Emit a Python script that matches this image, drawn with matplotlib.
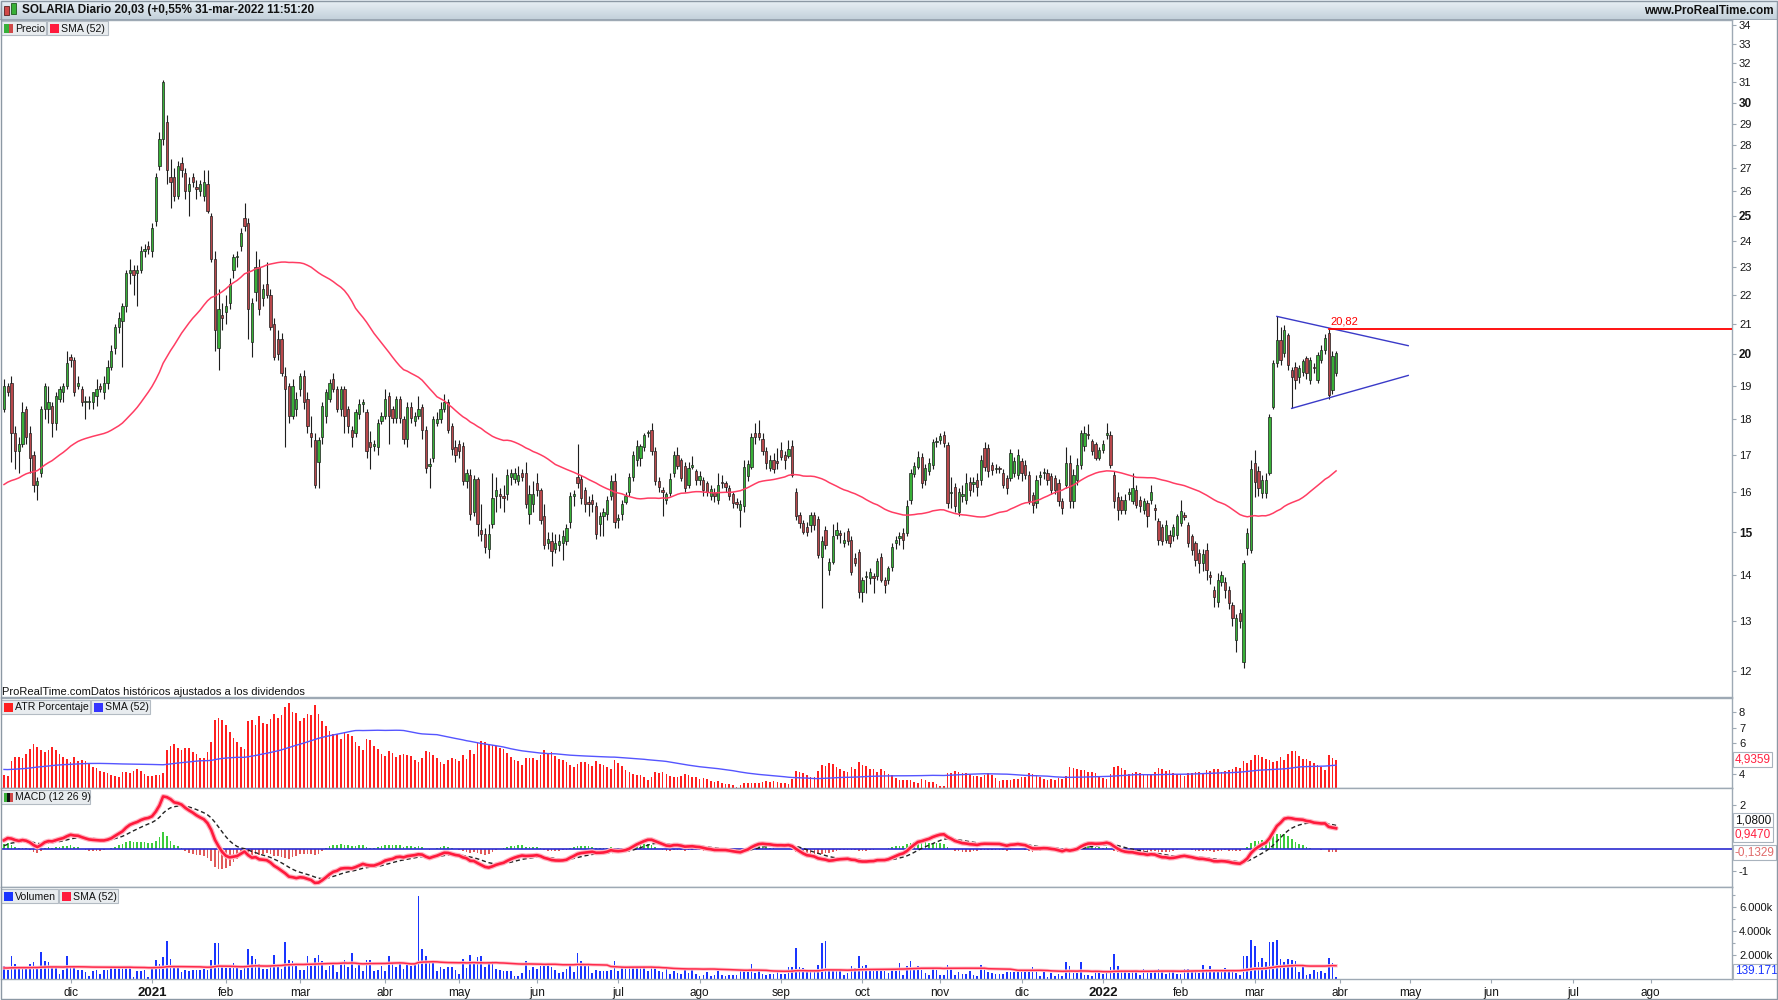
import numpy as np
import pandas as pd
import matplotlib
matplotlib.use("Agg")
import matplotlib.pyplot as plt
from matplotlib.patches import Rectangle
from matplotlib.ticker import FixedLocator, NullLocator, NullFormatter
from matplotlib.transforms import blended_transform_factory
from matplotlib.colors import LinearSegmentedColormap

plt.rcParams['font.family'] = ['Liberation Sans', 'DejaVu Sans']

# daily candles, 5-nov-2020 .. 31-mar-2022
open_px = [
    18.3, 19.0, 19.1, 17.6, 17.1, 17.3, 18.3, 17.6, 17.0, 16.2,
    16.5, 18.3, 18.3, 18.4, 17.9, 18.6, 18.8, 19.0, 19.9, 19.8,
    19.0, 18.9, 18.5, 18.5, 18.5, 18.7, 19.0, 18.8, 19.1, 19.6,
    20.2, 20.9, 21.1, 21.6, 22.8, 22.9, 22.8, 22.9, 23.6, 23.8,
    23.6, 24.8, 27.1, 28.3, 29.1, 26.6, 26.6, 25.8, 27.2, 26.8,
    26.0, 26.6, 26.2, 26.0, 25.8, 26.3, 25.0, 23.3, 20.2, 21.3,
    21.4, 21.7, 22.9, 23.4, 23.8, 24.9, 24.7, 20.4, 22.1, 23.0,
    21.9, 22.4, 22.0, 21.0, 20.5, 20.5, 19.3, 19.0, 18.1, 18.3,
    18.9, 19.3, 18.6, 17.6, 17.4, 16.8, 17.5, 18.1, 18.6, 19.2,
    18.9, 18.3, 18.9, 18.3,
    17.7, 17.6, 18.15, 18.45, 18.2, 17.35,
    17.25, 17.2, 17.95, 18.1, 18.7, 18.3, 18.05, 18.6, 18.0, 17.45,
    18.35, 17.95, 18.1, 18.35, 17.7, 16.7, 16.9, 17.9, 18.0, 18.3,
    18.5, 17.8, 17.2, 17.3, 17.25, 16.3, 16.45, 15.5, 16.35, 15.05,
    14.95, 14.6, 15.2, 15.9, 15.95, 15.9, 15.95, 16.4, 16.35, 16.3,
    16.5, 16.5, 15.45, 15.7, 16.25, 16.05, 15.4, 14.75, 14.8, 14.6,
    14.7, 14.75, 14.8, 15.25, 15.9, 16.4, 16.35, 16.05, 15.75, 15.8,
    15.65, 15.2, 15.4, 15.45, 15.9, 16.3, 15.3, 15.45, 15.75, 16.0,
    16.4, 16.85, 16.9, 17.2, 17.6, 17.7, 17.1, 16.3, 16.05, 15.8,
    15.98, 16.5, 17.0,
    16.86, 16.7, 16.2, 16.68, 16.55, 16.33, 16.33,
    16.24, 15.9, 15.98, 15.8, 16.26, 16.24, 16.1, 15.95, 15.75, 15.55,
    15.64, 16.42, 16.68, 17.6, 17.6, 17.45, 17.1, 16.64, 16.86, 16.8,
    17.13, 17.0, 16.97, 17.23, 16.0, 15.43, 15.22, 15.12, 15.18, 15.43,
    15.32, 14.42, 15.06, 14.12, 14.3, 14.94, 14.96, 14.74, 15.04, 14.82,
    14.38, 14.54, 13.63, 13.95, 13.93, 13.97, 13.97, 14.42, 13.89, 13.88,
    14.19, 14.74, 14.87, 14.98, 14.98, 15.8, 16.48, 16.68, 16.95, 16.33,
    16.55, 16.73, 17.35, 17.41, 17.55, 17.27, 15.98, 16.15, 15.5, 15.9,
    15.8, 16.28, 16.22, 16.33, 16.33, 17.18, 17.18, 16.72, 16.6,
    16.62, 16.5, 16.37,
    16.37, 16.51, 16.46, 16.82, 16.73, 16.46, 15.94, 15.72, 16.4, 16.5,
    16.51, 16.42, 16.37, 16.24, 15.77, 16.2, 16.77, 15.77, 16.33, 16.73,
    17.23, 17.56, 17.38, 17.29, 16.91, 17.14, 17.56, 17.56, 16.46, 15.89,
    15.81, 15.56, 15.96, 15.77, 16.07, 15.81, 15.56, 15.72, 15.81, 15.58,
    15.27, 15.14, 14.82, 14.94, 14.9, 14.94, 15.23, 15.4, 15.19, 14.9,
    14.74, 14.5, 14.27, 14.58, 13.98, 13.67, 13.41, 13.85, 13.85, 13.67,
    13.34, 12.61, 13.17, 12.17, 14.62, 14.58, 16.77, 16.55, 15.98, 15.98,
    16.51, 18.37, 19.7, 20.46, 20.02, 20.62, 19.49, 19.6, 19.28, 19.44,
    19.86, 19.18, 19.56, 19.18, 19.81, 20.13, 20.68, 18.87, 19.39,
]
high_px = [
    19.2, 19.1, 19.3, 17.8, 17.5, 18.5, 18.4, 17.8, 17.1, 16.4,
    18.4, 19.1, 19.0, 18.5, 18.8, 19.0, 19.1, 20.1, 20.0, 19.9,
    19.3, 19.0, 18.7, 18.7, 18.8, 19.2, 19.1, 19.3, 19.8, 20.3,
    21.0, 21.4, 21.7, 22.9, 23.3, 23.1, 23.1, 23.8, 23.9, 24.0,
    24.7, 26.8, 28.6, 31.1, 29.4, 27.4, 27.0, 27.3, 27.5, 27.0,
    26.6, 26.8, 26.5, 26.5, 26.9, 26.9, 25.1, 23.6, 22.2, 21.7,
    22.0, 22.6, 23.5, 23.6, 24.5, 25.5, 24.9, 21.9, 23.6, 23.3,
    22.4, 23.2, 22.2, 21.2, 20.8, 20.7, 19.6, 19.1, 19.2, 18.8,
    19.4, 19.5, 18.8, 18.1, 17.6, 17.5, 18.5, 18.9, 19.2, 19.4,
    19.0, 19.0, 19.0, 18.4,
    17.8, 18.3, 18.6, 18.6, 18.3, 17.65,
    17.4, 18.0, 18.2, 18.9, 18.8, 18.4, 18.7, 18.7, 18.1, 18.5,
    18.5, 18.2, 18.7, 18.45, 17.8, 16.9, 18.1, 18.2, 18.5, 18.75,
    18.6, 17.9, 17.4, 17.4, 17.35, 16.6, 16.6, 16.45, 16.4, 15.7,
    15.1, 15.2, 16.5, 16.4, 16.1, 16.2, 16.6, 16.6, 16.65, 16.7,
    16.6, 16.8, 16.2, 16.3, 16.5, 16.1, 15.7, 15.0, 15.0, 14.95,
    14.95, 15.05, 15.2, 16.0, 16.05, 17.3, 16.45, 16.15, 15.9, 15.95,
    15.75, 15.5, 15.6, 15.9, 16.45, 16.5, 15.45, 15.8, 16.0, 16.5,
    17.1, 17.4, 17.3, 17.6, 17.7, 17.9, 17.2, 16.4, 16.15, 16.0,
    16.5, 17.1, 17.2,
    16.9, 16.8, 16.8, 16.97, 16.6, 16.55, 16.4,
    16.3, 16.2, 16.1, 16.5, 16.45, 16.3, 16.2, 16.0, 15.85, 15.8,
    16.85, 16.85, 17.6, 17.9, 17.97, 17.6, 17.2, 17.0, 17.05, 17.18,
    17.35, 17.1, 17.4, 17.4, 16.1, 15.5, 15.3, 15.25, 15.5, 15.5,
    15.4, 14.9, 15.15, 14.4, 15.2, 15.25, 15.05, 15.0, 15.1, 14.9,
    14.5, 14.6, 13.95, 14.1, 14.15, 14.05, 14.4, 14.5, 13.95, 14.2,
    14.75, 14.9, 15.0, 15.1, 15.8, 16.6, 16.8, 17.1, 17.05, 16.75,
    16.9, 17.45, 17.5, 17.62, 17.65, 17.35, 16.4, 16.25, 16.1, 16.2,
    16.5, 16.4, 16.4, 16.5, 17.0, 17.35, 17.3, 16.8, 16.75,
    16.7, 16.6, 16.45,
    17.15, 16.95, 17.15, 16.9, 16.85, 16.55, 16.0, 16.45, 16.55, 16.65,
    16.6, 16.5, 16.45, 16.35, 15.85, 17.2, 17.0, 16.6, 16.9, 17.7,
    17.8, 17.85, 17.45, 17.35, 17.2, 17.4, 17.9, 17.65, 16.55, 16.0,
    15.9, 15.95, 16.1, 16.5, 16.2, 15.9, 15.85, 15.8, 16.2, 15.7,
    15.35, 15.2, 15.3, 15.05, 15.2, 15.45, 15.81, 15.5, 15.25, 14.95,
    14.8, 14.6, 14.6, 14.75, 14.1, 13.75, 14.05, 14.1, 13.95, 13.75,
    13.4, 13.15, 13.25, 14.35, 15.1, 16.85, 17.14, 16.7, 16.45, 16.5,
    18.15, 19.8, 21.25, 20.9, 20.95, 20.7, 19.6, 19.75, 19.65, 19.85,
    19.95, 19.9, 19.7, 20.05, 20.3, 20.65, 20.82, 20.1, 20.1,
]
low_px = [
    18.2, 18.7, 16.8, 16.6, 16.5, 17.2, 17.3, 16.5, 16.0, 15.8,
    16.4, 18.0, 17.9, 17.5, 17.7, 18.5, 18.5, 18.9, 19.6, 18.7,
    18.9, 18.4, 18.0, 18.3, 18.3, 18.4, 18.8, 18.6, 18.9, 19.5,
    20.0, 20.7, 19.6, 21.4, 22.4, 22.0, 21.6, 22.8, 23.4, 23.5,
    23.4, 24.6, 26.9, 28.0, 26.3, 25.3, 25.6, 25.7, 26.6, 25.7,
    25.0, 26.2, 25.7, 25.8, 25.6, 25.1, 23.2, 20.1, 19.5, 20.8,
    21.0, 21.5, 22.6, 23.0, 23.6, 24.4, 20.5, 19.9, 21.8, 21.3,
    21.6, 21.9, 20.8, 19.8, 19.8, 19.3, 17.2, 17.9, 18.0, 18.1,
    18.7, 18.3, 17.6, 17.2, 16.1, 16.1, 17.3, 17.9, 18.5, 18.8,
    18.2, 18.1, 17.6, 17.6,
    17.2, 17.5, 18.0, 18.2, 16.9, 16.6,
    17.1, 17.0, 17.85, 18.0, 17.3, 17.9, 17.9, 17.9, 17.3, 17.2,
    17.9, 17.8, 18.0, 17.45, 16.5, 16.1, 16.8, 17.8, 17.9, 18.2,
    17.6, 17.0, 16.8, 16.9, 16.2, 16.1, 15.3, 15.4, 14.9, 14.8,
    14.5, 14.4, 15.1, 15.5, 15.6, 15.5, 15.8, 16.2, 16.25, 16.2,
    16.3, 15.6, 15.2, 15.5, 15.9, 15.2, 14.6, 14.6, 14.2, 14.5,
    14.55, 14.35, 14.7, 15.1, 15.65, 16.1, 15.7, 15.5, 15.4, 15.5,
    14.85, 14.9, 14.9, 15.3, 15.8, 15.1, 15.1, 15.3, 15.7, 15.9,
    16.3, 16.7, 16.7, 17.1, 17.5, 17.0, 16.2, 16.0, 15.4, 15.7,
    15.9, 16.4, 16.6,
    16.3, 16.0, 16.1, 16.6, 16.2, 16.2, 15.9,
    15.9, 15.8, 15.75, 15.7, 16.1, 16.0, 15.8, 15.6, 15.6, 15.14,
    15.5, 16.3, 16.6, 17.3, 17.4, 17.0, 16.6, 16.55, 16.5, 16.6,
    16.85, 16.6, 16.9, 16.4, 15.3, 15.1, 14.95, 14.9, 15.0, 15.05,
    14.4, 13.27, 14.6, 14.0, 14.25, 14.85, 14.75, 14.65, 14.7, 14.0,
    14.2, 13.5, 13.4, 13.6, 13.8, 13.6, 13.9, 13.85, 13.6, 13.8,
    14.1, 14.6, 14.7, 14.6, 14.9, 15.7, 16.4, 16.6, 16.1, 16.2,
    16.45, 16.6, 17.2, 17.3, 17.2, 15.6, 15.6, 15.5, 15.4, 15.75,
    15.7, 15.9, 16.0, 15.9, 16.2, 16.55, 16.4, 16.45, 16.5,
    16.5, 16.1, 15.95,
    16.3, 16.4, 16.35, 16.3, 16.35, 15.7, 15.47, 15.6, 16.2, 16.35,
    16.2, 15.95, 15.95, 15.65, 15.45, 16.1, 15.6, 15.6, 16.2, 16.6,
    17.1, 17.45, 17.0, 16.85, 16.85, 17.05, 17.45, 16.65, 15.6, 15.3,
    15.45, 15.45, 15.8, 15.7, 15.6, 15.5, 15.45, 15.14, 15.7, 15.31,
    14.7, 14.7, 14.75, 14.65, 14.8, 14.85, 15.15, 15.3, 14.65, 14.45,
    14.2, 14.05, 14.1, 13.9, 13.8, 13.3, 13.3, 13.75, 13.5, 13.25,
    12.9, 12.37, 12.85, 12.05, 14.45, 14.5, 15.89, 15.9, 15.85, 15.85,
    16.45, 18.3, 19.6, 19.65, 19.9, 19.5, 18.32, 18.9, 19.1, 19.3,
    19.2, 19.05, 19.4, 19.1, 19.7, 20.0, 18.6, 18.75, 19.3,
]
close_px = [
    19.0, 18.8, 17.6, 17.1, 17.3, 18.2, 17.5, 16.9, 16.2, 16.3,
    18.3, 19.0, 18.5, 17.9, 18.7, 18.9, 19.0, 19.7, 19.8, 18.8,
    19.1, 18.5, 18.5, 18.5, 18.8, 18.9, 18.9, 19.1, 19.6, 20.1,
    20.9, 21.2, 21.6, 22.8, 22.9, 22.7, 22.9, 23.6, 23.7, 23.7,
    24.5, 26.6, 28.3, 31.0, 26.9, 26.4, 25.8, 27.1, 26.9, 26.0,
    26.3, 26.4, 26.1, 26.3, 26.4, 25.2, 23.3, 20.8, 21.5, 21.2,
    21.6, 22.4, 23.4, 23.4, 24.3, 24.6, 21.5, 21.7, 23.0, 21.5,
    22.2, 22.0, 20.9, 19.9, 20.0, 19.4, 18.9, 18.1, 19.0, 18.6,
    19.3, 18.5, 17.8, 17.5, 16.2, 17.4, 18.4, 18.8, 19.1, 18.9,
    18.3, 18.9, 18.1, 17.8,
    17.5, 18.2, 18.45, 18.5, 17.1, 17.2,
    17.3, 17.9, 18.1, 18.6, 18.1, 18.05, 18.6, 18.05, 17.45, 18.35,
    18.05, 18.1, 18.3, 17.7, 16.65, 16.75, 18.0, 18.0, 18.3, 18.5,
    17.7, 17.15, 17.0, 17.1, 16.3, 16.5, 15.45, 16.35, 15.2, 14.95,
    14.65, 14.95, 15.85, 16.05, 15.9, 15.85, 16.45, 16.5, 16.5, 16.45,
    16.4, 15.7, 15.95, 15.95, 16.05, 15.3, 14.7, 14.85, 14.55, 14.75,
    14.8, 14.9, 15.1, 15.9, 15.95, 16.25, 15.85, 15.7, 15.7, 15.7,
    14.95, 15.4, 15.5, 15.8, 16.3, 15.25, 15.35, 15.7, 15.9, 16.4,
    17.0, 17.25, 17.25, 17.55, 17.6, 17.1, 16.3, 16.15, 16.0, 15.95,
    16.35, 17.0, 16.7,
    16.37, 16.1, 16.65, 16.72, 16.33, 16.42, 16.07,
    16.02, 16.08, 15.9, 16.2, 16.24, 16.13, 15.9, 15.72, 15.7, 15.7,
    16.68, 16.75, 17.5, 17.5, 17.5, 17.1, 16.77, 16.86, 16.62, 16.78,
    16.95, 16.86, 17.15, 16.46, 15.39, 15.22, 15.0, 15.0, 15.43, 15.18,
    14.46, 14.78, 14.7, 14.3, 14.9, 15.06, 14.94, 14.82, 14.78, 14.08,
    14.27, 13.63, 13.89, 13.97, 14.08, 13.93, 14.31, 13.89, 13.78, 14.16,
    14.66, 14.82, 14.92, 14.82, 15.64, 16.5, 16.7, 16.95, 16.24, 16.64,
    16.77, 17.36, 17.39, 17.51, 17.32, 15.72, 15.99, 15.64, 16.0, 15.95,
    16.24, 16.07, 16.24, 16.15, 16.86, 16.68, 16.55, 16.59, 16.65,
    16.6, 16.2, 16.1,
    17.05, 16.82, 17.0, 16.51, 16.46, 15.77, 15.68, 16.33, 16.42, 16.51,
    16.33, 16.07, 16.07, 15.77, 15.6, 16.77, 15.77, 16.46, 16.73, 17.61,
    17.61, 17.54, 17.1, 16.91, 17.14, 17.29, 17.58, 16.73, 15.77, 15.56,
    15.56, 15.81, 15.98, 16.11, 15.68, 15.64, 15.77, 15.39, 16.02, 15.56,
    14.82, 14.78, 15.19, 14.74, 15.14, 15.39, 15.52, 15.38, 14.74, 14.58,
    14.35, 14.27, 14.49, 14.12, 13.96, 13.52, 13.89, 14.0, 13.67, 13.38,
    13.06, 13.06, 12.99, 14.28, 14.98, 16.6, 16.28, 16.11, 16.33, 16.33,
    18.08, 19.7, 20.46, 19.81, 20.79, 19.65, 19.28, 19.18, 19.55, 19.76,
    19.39, 19.81, 19.55, 19.97, 20.13, 20.51, 18.72, 19.92, 20.03,
]
# volume in thousands of shares
volume_k = [
    1056, 723, 1890, 1279, 1112, 862, 834, 1279, 1390, 834,
    2224, 1529, 1390, 1112, 917, 445, 778, 1946, 1112, 1112,
    778, 778, 612, 278, 667, 778, 445, 778, 778, 917,
    1112, 917, 1056, 1056, 890, 167, 695, 695, 723, 167,
    834, 1612, 1279, 1835, 3141, 1668, 973, 973, 556, 778,
    639, 723, 751, 723, 834, 723, 1612, 3002, 3002, 1056,
    917, 917, 1334, 917, 778, 1195, 2530, 1890, 1668, 1279,
    862, 862, 1195, 2002, 1112, 834, 3086, 1612, 1529, 1056,
    723, 723, 1918, 1056, 1751, 1974, 1473, 723, 1056, 1195,
    584, 1279, 1585, 1001, 2141, 890, 1140, 695, 1612, 1557,
    695, 723, 1056, 695, 1918, 1334, 1001, 1334, 834, 1195,
    1056, 1223, 6950, 2502, 1918, 1390, 1529, 667, 1001, 862,
    1001, 973, 778, 445, 1696, 917, 1974, 1473, 1835, 1918,
    973, 1334, 1473, 834, 723, 639, 695, 695, 222, 278,
    500, 1529, 723, 1001, 834, 1056, 1334, 1334, 1001, 723,
    500, 612, 834, 1112, 556, 2168, 1529, 1112, 1112, 500,
    723, 695, 639, 695, 723, 1473, 639, 1001, 1056, 1056,
    1001, 890, 890, 890, 695, 890, 890, 667, 612, 834,
    445, 695, 500, 445, 917, 500, 917, 417, 278, 361,
    584, 278, 361, 639, 361, 278, 361, 361, 361, 695,
    695, 556, 1279, 500, 695, 445, 334, 445, 417, 639,
    445, 445, 1001, 1001, 2585, 1001, 890, 556, 695, 639,
    1195, 3002, 3141, 834, 834, 695, 695, 361, 500, 1112,
    890, 1890, 1056, 1195, 639, 778, 778, 778, 639, 500,
    778, 639, 1334, 361, 1112, 1529, 890, 1112, 778, 500,
    361, 834, 723, 361, 361, 1195, 862, 361, 584, 445,
    445, 667, 361, 278, 1195, 834, 556, 500, 445, 445,
    445, 556, 556, 556, 667, 695, 723, 778, 973, 723,
    278, 639, 167, 500, 278, 445, 278, 1446, 1112, 500,
    500, 1446, 361, 361, 278, 639, 778, 445, 778, 1001,
    2085, 1056, 639, 639, 500, 639, 639, 361, 834, 778,
    500, 778, 834, 695, 445, 639, 639, 445, 445, 834,
    834, 778, 556, 500, 1168, 834, 1056, 778, 639, 639,
    890, 639, 639, 500, 361, 1890, 1890, 3225, 2724, 1390,
    1751, 1446, 3058, 3086, 3280, 1668, 1446, 1668, 1612, 1529,
    612, 1001, 361, 417, 778, 556, 667, 500, 1751, 1334,
    139.171,
]
# closes before the visible window, estimated so the SMA(52) starts where the chart shows it
prior_close = [
    15.6, 15.4, 15.5, 15.3, 15.1, 14.9, 15.2, 15.0, 14.8, 14.6,
    14.9, 15.2, 15.0, 14.7, 14.9, 15.3, 15.4, 15.1, 15.2, 15.8,
    16.2, 16.6, 16.9, 17.2, 17.5, 17.4, 17.8, 17.6, 17.3, 17.6,
    17.9, 17.5, 17.2, 17.0, 16.8, 16.4, 16.0, 15.7, 15.5, 15.6,
    15.9, 16.2, 16.1, 16.3, 16.0, 16.4, 16.8, 16.6, 17.0, 17.5, 18.1,
]
atr_seed_pct = 4.0
atr_sma_seed = 4.3
vol_sma_seed = 920

# projected ends of the triangle lines
tri_end_x = 379.5
tri_upper_end = 20.27
tri_lower_end = 19.32

price_ticks = [12, 13, 14, 15, 16, 17, 18, 19, 20, 21, 22, 23, 24, 25, 26,
               27, 28, 29, 30, 31, 32, 33, 34]
meses = ["ene", "feb", "mar", "abr", "may", "jun", "jul", "ago", "sep", "oct", "nov", "dic"]

o = np.array(open_px)
h = np.array(high_px)
l = np.array(low_px)
c = np.array(close_px)
v = np.array(volume_k, dtype=float)
n = len(c)
assert len(o) == len(h) == len(l) == len(v) == n, (len(o), len(h), len(l), len(c), len(v))
x = np.arange(n)

# trading calendar (BME holidays removed)
hol = pd.to_datetime(["2020-12-25", "2021-01-01", "2021-04-02", "2021-04-05",
                      "2021-12-24", "2022-04-15", "2022-04-18"])
days = pd.bdate_range("2020-09-01", "2022-08-31")
days = days[~days.isin(hol)]
end = days.get_loc(pd.Timestamp("2022-03-31"))
days = days[end - n + 1:]

# indicators
npre = len(prior_close)
allc = pd.Series(prior_close + close_px)
sma52 = allc.rolling(52).mean().values[npre:]
ema12 = allc.ewm(span=12, adjust=False).mean()
ema26 = allc.ewm(span=26, adjust=False).mean()
macd_all = ema12 - ema26
sig_all = macd_all.ewm(span=9, adjust=False).mean()
macd = macd_all.values[npre:]
sig = sig_all.values[npre:]
hist = macd - sig

prev_c = np.r_[prior_close[-1], c[:-1]]
tr = np.maximum(h - l, np.maximum(np.abs(h - prev_c), np.abs(l - prev_c)))
atr = np.empty(n)
run = atr_seed_pct / 100 * prior_close[-1]
for i in range(n):
    run = (13 * run + tr[i]) / 14   # Wilder smoothing
    atr[i] = run
atr_pct = 100 * atr / c


def sma_with_seed(vals, seed, k=52):
    s = pd.Series(np.r_[np.full(k - 1, seed), vals])
    return s.rolling(k).mean().values[k - 1:]


atr_sma = sma_with_seed(atr_pct, atr_sma_seed)
vol_sma = sma_with_seed(v, vol_sma_seed)

# ---- figure ----
W, H = 1778, 1000
fig = plt.figure(figsize=(W / 100, H / 100), dpi=100)
fig.patch.set_facecolor('white')
GRID = '#9ea9b4'


def panel(top, bottom):
    return fig.add_axes([1 / W, 1 - bottom / H, 1731 / W, (bottom - top) / H])


def px_rect(x0, y0, w, hh, **kw):
    r = Rectangle((x0 / W, 1 - (y0 + hh) / H), w / W, hh / H,
                  transform=fig.transFigure, figure=fig, **kw)
    fig.patches.append(r)


def px_text(xp, yp, s, **kw):
    fig.text(xp / W, 1 - yp / H, s, **kw)


ax_p = panel(20, 697)
ax_a = panel(698, 788)
ax_m = panel(788, 887)
ax_v = panel(887, 979)

for ax in (ax_p, ax_a, ax_m, ax_v):
    ax.set_xlim(-0.81, 467.0)
    ax.yaxis.tick_right()
    ax.tick_params(axis='y', which='both', direction='out', length=3, width=0.8,
                   color=GRID, labelsize=8, pad=2, labelcolor='#151515')
    ax.spines['left'].set_visible(False)
    for s in ('top', 'bottom', 'right'):
        ax.spines[s].set_color(GRID)
        ax.spines[s].set_linewidth(1)
    ax.set_xticks([])

# price panel
ax_p.set_yscale('log')
ax_p.set_ylim(11.5, 34.28)
ax_p.yaxis.set_major_locator(FixedLocator(price_ticks))
ax_p.yaxis.set_minor_locator(NullLocator())
ax_p.yaxis.set_minor_formatter(NullFormatter())
ax_p.set_yticklabels([str(t) for t in price_ticks])
for t, lab in zip(price_ticks, ax_p.get_yticklabels()):
    if t % 5 == 0:
        lab.set_fontweight('bold')
        lab.set_fontsize(8.5)

up = c >= o
ax_p.vlines(x, l, h, color='#1e1e1e', lw=0.8, zorder=2)
ax_p.bar(x, np.maximum(np.abs(c - o), 0.04), bottom=np.minimum(o, c), width=0.62,
         color=np.where(up, '#38b038', '#b8474b'), edgecolor='#1e1e1e', linewidth=0.5, zorder=3)
ax_p.plot(x, sma52, color='#ff3d63', lw=1.1, zorder=4)

i_top = n - 20 + int(np.argmax(h[-20:]))
i_bot = i_top + int(np.argmin(l[i_top:]))
i_hi = n - 5 + int(np.argmax(h[-5:]))
ax_p.plot([i_top, tri_end_x], [h[i_top], tri_upper_end], color='#3a3ac8', lw=1, zorder=5)
ax_p.plot([i_bot, tri_end_x], [l[i_bot], tri_lower_end], color='#3a3ac8', lw=1, zorder=5)
ax_p.plot([i_hi, 467], [h[i_hi], h[i_hi]], color='#ff0000', lw=1.3, zorder=5)
ax_p.annotate(f"{h[i_hi]:.2f}".replace('.', ','), (i_hi, h[i_hi]), xytext=(1, 3),
              textcoords='offset points', color='#ff0000', fontsize=8)

# ATR panel
ax_a.bar(x, atr_pct, width=0.45, color='#ff2020', zorder=2)
ax_a.plot(x, atr_sma, color='#5555ff', lw=1, zorder=3)
ax_a.set_ylim(3.09, 8.93)
ax_a.set_yticks([4, 6, 7, 8])
ax_a.set_yticklabels(['4', '6', '7', '8'])

# MACD panel
ax_m.bar(x, hist, width=0.45, color=np.where(hist >= 0, '#3ccc3c', '#e05a5a'), zorder=2)
ax_m.axhline(0, color='#2a2ad0', lw=1.2, zorder=3)
ax_m.plot(x, sig, color='#222222', lw=1.0, ls=(0, (3, 2)), zorder=4)
ax_m.plot(x, macd, color='#ffb3c0', lw=3.6, zorder=4, solid_capstyle='round')
ax_m.plot(x, macd, color='#ff1a3c', lw=1.9, zorder=5)
ax_m.set_ylim(-1.71, 2.77)
ax_m.set_yticks([-1, 2])
ax_m.set_yticklabels(['-1', '2'])

# volume panel
ax_v.bar(x, v, width=0.45, color='#1a35ff', zorder=2)
ax_v.plot(x, vol_sma, color='#ffc2cc', lw=2.4, zorder=3)
ax_v.plot(x, vol_sma, color='#ff2a4a', lw=1.1, zorder=4)
ax_v.set_ylim(0, 7692)
ax_v.set_yticks([2000, 4000, 6000])
ax_v.set_yticklabels(['2.000k', '4.000k', '6.000k'])
ax_v.set_yticks([1000, 3000, 5000, 7000], minor=True)
ax_v.tick_params(axis='y', which='minor', length=2, color=GRID)

# month labels on the bottom axis
pos = pd.Series(np.arange(len(days)), index=days)
firsts = pos.groupby([days.year, days.month]).first()
tick_pos, tick_lab = [], []
for (yy, mm), idx in firsts.items():
    if idx == 0:
        continue
    tick_pos.append(idx)
    tick_lab.append(str(yy) if mm == 1 else meses[mm - 1])
ax_v.set_xticks(tick_pos)
ax_v.set_xticklabels(tick_lab)
ax_v.tick_params(axis='x', length=3, width=0.8, color=GRID, labelsize=8.5, pad=3,
                 labelcolor='#151515')
for lab in ax_v.get_xticklabels():
    if lab.get_text().isdigit():
        lab.set_fontweight('bold')
        lab.set_fontsize(9.5)


# last-value boxes on the right axis
def value_box(ax, y, s, color):
    trf = blended_transform_factory(ax.transAxes, ax.transData)
    ax.text(1.0015, y, s, transform=trf, color=color, fontsize=8.5, va='center', ha='left',
            bbox=dict(boxstyle='square,pad=0.15', fc='white', ec='#a9b3bd', lw=0.8),
            clip_on=False, zorder=10)


def fmt(val, d=4):
    return f"{val:.{d}f}".replace('.', ',')


value_box(ax_a, atr_pct[-1], fmt(atr_pct[-1]), '#ff2040')
value_box(ax_m, sig[-1] + 0.2, fmt(sig[-1]), '#111111')
value_box(ax_m, macd[-1] - 0.29, fmt(macd[-1]), '#ff2040')
value_box(ax_m, hist[-1] - 0.02, fmt(hist[-1]), '#e06a6a')
trv = blended_transform_factory(ax_v.transAxes, ax_v.transData)
ax_v.text(1.0015, v[-1], f"{v[-1] * 1000:,.0f}".replace(',', '.'), transform=trv,
          color='#1a35ff', fontsize=8.5, va='bottom', ha='left',
          bbox=dict(boxstyle='square,pad=0.15', fc='white', ec='#a9b3bd', lw=0.8),
          clip_on=False, zorder=10)

# title bar
tb = fig.add_axes([0, 1 - 19 / H, 1, 19 / H])
tb.axis('off')
tb.imshow(np.linspace(0, 1, 40).reshape(-1, 1), aspect='auto', extent=[0, 1, 0, 1],
          cmap=LinearSegmentedColormap.from_list('tb', ['#eaf1f6', '#c4d1db']))
px_rect(0, 19, W, 1, fc='#9aa6b2', ec='none')
px_rect(4, 6, 5, 9, fc='#d04848', ec='#5a2020', lw=0.6)
px_rect(11, 3, 5, 11, fc='#38b038', ec='#1e5a1e', lw=0.6)
px_text(22, 10.5, "SOLARIA Diario 20,03 (+0,55% 31-mar-2022 11:51:20", fontsize=8.5,
        fontweight='bold', va='center', color='#111111')
px_text(1774, 10.5, "www.ProRealTime.com", fontsize=8.5, fontweight='bold', va='center',
        ha='right', color='#111111')


# legend chips
def legend_row(x0, y0, items):
    xx = x0
    for label, cols, w in items:
        px_rect(xx, y0, w, 14, fc='#e8ecef', ec='#b3bbc3', lw=0.8)
        k = len(cols)
        for j, col in enumerate(cols):
            px_rect(xx + 3 + j * 9 / k, y0 + 3, 9 / k, 9, fc=col, ec='none')
        px_text(xx + 14, y0 + 7.5, label, fontsize=7.6, va='center', color='#111111')
        xx += w + 1


legend_row(1, 21, [("Precio", ['#38b038', '#d04848'], 45), ("SMA (52)", ['#ff1a3c'], 61)])
legend_row(1, 700, [("ATR Porcentaje", ['#ff2020'], 89), ("SMA (52)", ['#3535ff'], 59)])
legend_row(1, 790, [("MACD (12 26 9)", ['#38b038', '#111111', '#d04848'], 89)])
legend_row(1, 889, [("Volumen", ['#1a35ff'], 57), ("SMA (52)", ['#ff1a3c'], 59)])

px_text(2, 692, "ProRealTime.comDatos históricos ajustados a los dividendos", fontsize=8,
        va='center', color='#111111')

# outer frame
px_rect(0.5, 0.5, W - 1.5, H - 1.5, fill=False, ec='#8c98a4', lw=1)

fig.savefig("out.png", dpi=100, facecolor='white')
